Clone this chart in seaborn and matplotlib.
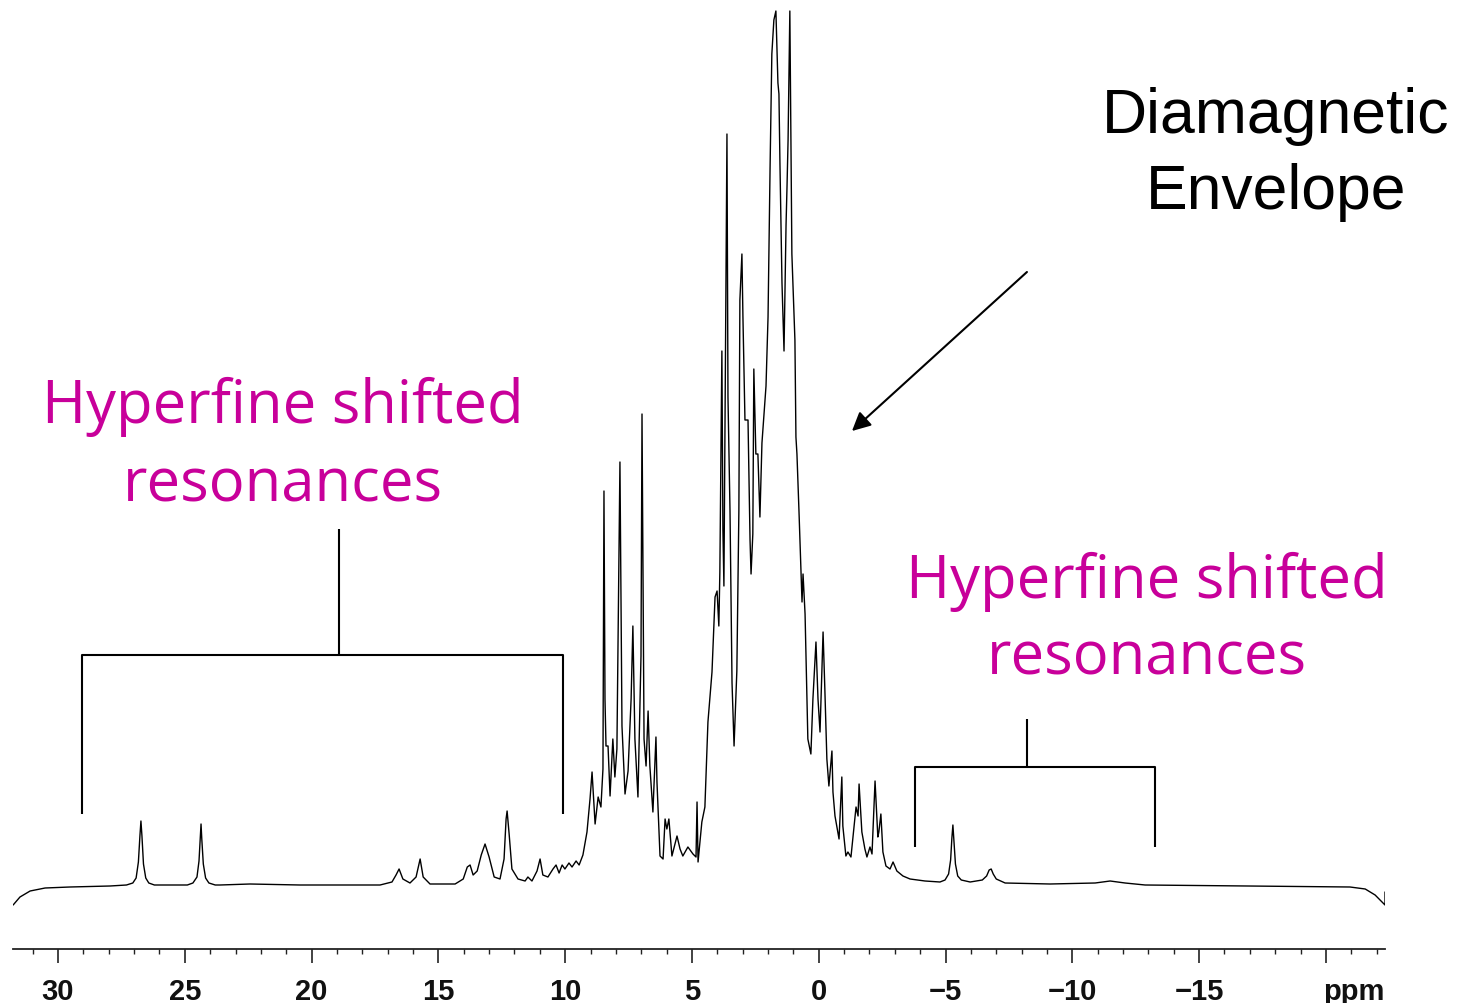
import matplotlib
matplotlib.use("Agg")
import matplotlib.pyplot as plt
import seaborn as sns
import pandas as pd

# ---- spectrum trace (chemical shift in ppm, intensity in arbitrary units) ----
ppm = [31.77, 31.50, 31.10, 30.51, 29.53, 27.95, 27.30, 27.05, 26.92, 26.83, 26.77, 26.73,
       26.69, 26.63, 26.54, 26.42, 26.20,
       25.98, 24.90, 24.68, 24.52, 24.44, 24.39, 24.36, 24.33, 24.27, 24.18, 24.05, 23.80,
       23.61, 22.43, 20.46, 17.30,
       16.83, 16.67, 16.55, 16.40, 16.12, 15.88, 15.72, 15.60, 15.33, 14.34, 14.02, 13.86,
       13.75, 13.63, 13.47, 13.31, 13.16, 13.00, 12.80, 12.57, 12.41, 12.33, 12.29, 12.21,
       12.10, 11.86, 11.58, 11.47, 11.31, 11.11, 10.99, 10.88, 10.68, 10.48, 10.36, 10.24,
       10.12, 10.01, 9.85, 9.73, 9.57, 9.45, 9.30, 9.14, 9.02, 8.94, 8.82, 8.70, 8.59,
       8.51, 8.47, 8.43, 8.39, 8.31, 8.23, 8.12, 8.04, 7.96, 7.84, 7.76, 7.64, 7.52, 7.40,
       7.33, 7.25, 7.13, 7.01, 6.97, 6.89, 6.81, 6.73, 6.66, 6.54, 6.42, 6.38, 6.26, 6.14,
       6.06, 5.99, 5.91, 5.79, 5.59, 5.47, 5.36, 5.16, 4.96, 4.84, 4.80, 4.76, 4.61, 4.49,
       4.37, 4.21, 4.09, 4.01, 3.94, 3.90, 3.82, 3.78, 3.74, 3.62, 3.58, 3.50, 3.42, 3.34,
       3.23, 3.15, 3.11, 3.03, 2.99, 2.91, 2.79, 2.71, 2.67, 2.60, 2.56, 2.48, 2.40, 2.32,
       2.24, 2.08, 2.00, 1.92, 1.85, 1.77, 1.69, 1.61, 1.57, 1.53, 1.45, 1.37, 1.29, 1.25,
       1.21, 1.14, 1.06, 0.94, 0.90, 0.86, 0.78, 0.66, 0.62, 0.54, 0.43, 0.31, 0.23, 0.11,
       0.03, -0.05, -0.17, -0.24, -0.32, -0.40, -0.52, -0.56, -0.64, -0.80, -0.91, -0.95,
       -1.07, -1.15, -1.27, -1.47, -1.55, -1.59, -1.70, -1.82, -1.90, -2.02, -2.10, -2.22,
       -2.33, -2.37, -2.45, -2.53, -2.65, -2.81, -2.93, -3.08, -3.32, -3.60, -4.19, -4.78,
       -4.98, -5.12, -5.20, -5.25, -5.29, -5.33, -5.39, -5.48, -5.62, -5.97,
       -6.45, -6.62, -6.72, -6.80, -6.88, -7.00, -7.35, -9.12,
       -10.90, -11.49, -12.08, -12.87, -17.01, -20.95, -21.55, -21.94, -22.33, -22.33]
intensity = [-19, -11, -5, -2, -1, 0, 1, 3, 8, 24, 50, 65,
             50, 22, 8, 3, 1,
             1, 1, 3, 9, 25, 48, 62, 47, 22, 8, 3, 1,
             1, 2, 1, 1,
             4, 11, 17, 7, 3, 9, 27, 9, 2, 2, 7, 19,
             21, 11, 15, 31, 42, 29, 9, 7, 27, 67, 75, 52,
             17, 7, 5, 9, 5, 15, 27, 11, 9, 17, 21, 13,
             21, 17, 23, 19, 25, 21, 31, 54, 87, 114, 62, 89, 79,
             117, 395, 187, 140, 140, 90, 147, 109, 137, 424, 160, 92, 115, 187,
             260, 147, 89, 230, 472, 147, 120, 175, 120, 74, 149, 104, 30, 27,
             67, 57, 67, 30, 50, 37, 30, 39, 32, 29, 84, 24, 64, 79,
             164, 214, 289, 295, 260, 314, 535, 357, 300, 752, 489, 375, 203, 140,
             215, 375, 586, 632, 569, 466, 466, 346, 312, 352, 517, 432, 432, 369,
             443, 500, 569, 718, 832, 866, 875, 803, 792, 722, 603, 535, 661, 701,
             746, 875, 632, 546, 449, 432, 375, 284, 312, 272, 147, 132, 187, 244,
             187, 154, 254, 197, 127, 100, 135, 94, 70, 47, 109, 60,
             30, 34, 29, 79, 70, 102, 54, 37, 29, 39, 32, 105,
             49, 54, 72, 34, 20, 17, 24, 15, 10, 7, 5, 4,
             6, 12, 26, 48, 61, 46, 22, 10, 6, 4,
             6, 10, 16, 17, 12, 7, 3, 2,
             3, 5, 3, 1, 0, -1, -3, -9, -19, -6]

# ---- axis ticks ----
major_ticks = [30, 25, 20, 15, 10, 5, 0, -5, -10, -15, -20, -21.1]
major_labels = ["30", "25", "20", "15", "10", "5", "0", "\u22125", "\u221210", "\u221215", "", "ppm"]
minor_ticks = [v for v in range(31, -23, -1) if v % 5 != 0]

# ---- annotation geometry (ppm / intensity) ----
left_bracket_x = [29.05, 10.09]
left_bracket_stem = 18.91
left_bracket_y = [72, 231, 357]
right_bracket_x = [-3.79, -13.26]
right_bracket_stem = -8.21
right_bracket_y = [39, 119, 167]
arrow_tail = (-8.21, 614)
arrow_head = (-1.31, 455)

MAGENTA = "#C8009A"

sns.set_theme(style="white")
plt.rcParams["font.family"] = ["Liberation Sans", "DejaVu Sans"]

W, H = 1458, 1004
fig = plt.figure(figsize=(W / 100, H / 100), dpi=100)
ax = fig.add_axes([13 / W, 54 / H, (1385 - 13) / W, 950 / H])

df = pd.DataFrame({"ppm": ppm, "intensity": intensity})
sns.lineplot(data=df, x="ppm", y="intensity", sort=False, estimator=None,
             color="black", linewidth=1.0, ax=ax)

ax.set_xlim(31.775, -22.33)
ax.set_ylim(-63, 887)
ax.set_xlabel("")
ax.set_ylabel("")
ax.set_yticks([])

for s in ["top", "left", "right"]:
    ax.spines[s].set_visible(False)
ax.spines["bottom"].set_color("#222222")
ax.spines["bottom"].set_linewidth(1.3)

ax.set_xticks(major_ticks)
ax.set_xticklabels(major_labels, fontsize=21, fontweight="bold", color="#111111")
ax.set_xticks(minor_ticks, minor=True)
ax.tick_params(axis="x", which="major", direction="out", length=10, width=1.2,
               color="#222222", pad=10, bottom=True)
ax.tick_params(axis="x", which="minor", direction="out", length=3.5, width=1.0,
               color="#222222", bottom=True)
ax.xaxis.get_major_ticks()[-1].tick1line.set_visible(False)

# brackets
bk = dict(color="black", linewidth=1.5, solid_capstyle="butt")
xl0, xl1 = left_bracket_x
yb, yt, ys = left_bracket_y
ax.plot([xl0, xl0, xl1, xl1], [yb, yt, yt, yb], **bk)
ax.plot([left_bracket_stem, left_bracket_stem], [yt, ys], **bk)
xr0, xr1 = right_bracket_x
yb, yt, ys = right_bracket_y
ax.plot([xr0, xr0, xr1, xr1], [yb, yt, yt, yb], **bk)
ax.plot([right_bracket_stem, right_bracket_stem], [yt, ys], **bk)

# arrow
ax.annotate("", xy=arrow_head, xytext=arrow_tail,
            arrowprops=dict(arrowstyle="-|>", color="black", lw=1.5,
                            mutation_scale=28, shrinkA=0, shrinkB=0))

def ftext(px, py, s, **kw):
    fig.text(px / W, 1 - py / H, s, ha="center", va="center", **kw)

mag = dict(fontsize=43, color=MAGENTA, family=["Open Sans", "DejaVu Sans"])
ftext(283, 407, "Hyperfine shifted", **mag)
ftext(283, 485, "resonances", **mag)
ftext(1147, 582, "Hyperfine shifted", **mag)
ftext(1147, 659, "resonances", **mag)

blk = dict(fontsize=45, color="black", family=["Liberation Sans", "DejaVu Sans"])
ftext(1276, 117, "Diamagnetic", **blk)
ftext(1276, 192, "Envelope", **blk)

fig.savefig("out.png", dpi=100)
